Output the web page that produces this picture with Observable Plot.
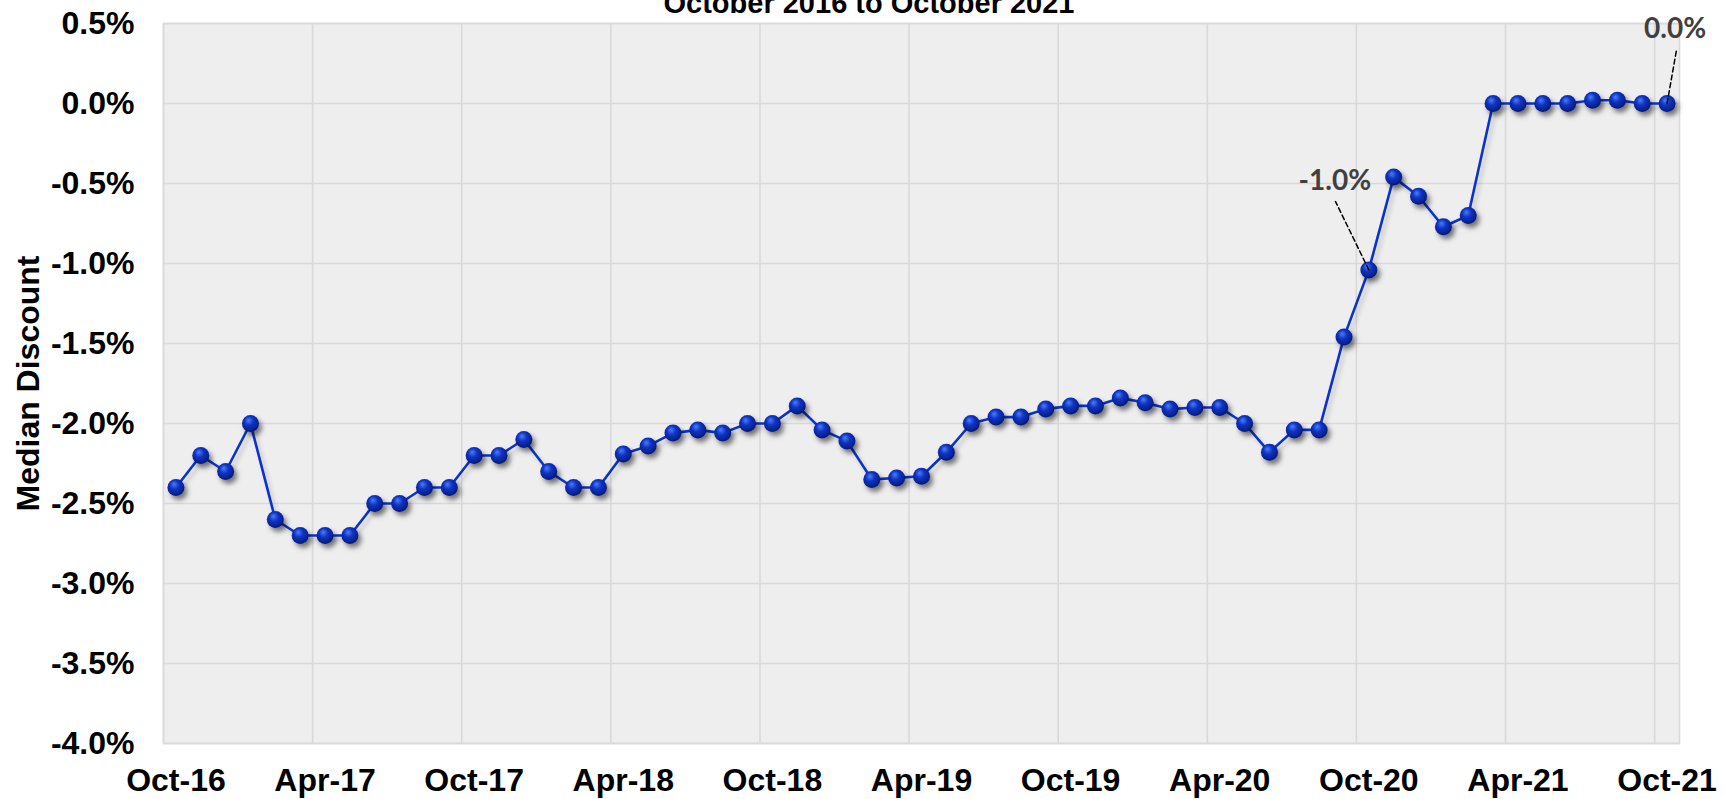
<!DOCTYPE html>
<html>
<head>
<meta charset="utf-8">
<script src="https://cdn.jsdelivr.net/npm/d3@7"></script>
<script src="https://cdn.jsdelivr.net/npm/@observablehq/plot@0.6"></script>
<style>
html, body { margin: 0; padding: 0; background: #ffffff; overflow: hidden; }
#wrap { position: relative; width: 1725px; height: 799px; overflow: hidden; }
#subtitle { position: absolute; left: 0; top: -11.5px; width: 1738px; text-align: center;
  font: bold 29px/29px "Liberation Sans", Arial, sans-serif; color: #000; white-space: nowrap; }
</style>
</head>
<body>
<div id="wrap"><div id="chart"></div><div id="subtitle">October 2016 to October 2021</div></div>
<script>
// Monthly categories, Oct-16 .. Oct-21
const months = d3.utcMonths(new Date(Date.UTC(2016, 9, 1)), new Date(Date.UTC(2021, 10, 1)))
  .map(d3.utcFormat("%b-%y"));

// Median discount (%) per month
const medianDiscount = [
  -2.40, -2.20, -2.30, -2.00, -2.60, -2.70, -2.70, -2.70, -2.50, -2.50,
  -2.40, -2.40, -2.20, -2.20, -2.10, -2.30, -2.40, -2.40, -2.19, -2.14,
  -2.06, -2.04, -2.06, -2.00, -2.00, -1.89, -2.04, -2.11, -2.35, -2.34,
  -2.33, -2.18, -2.00, -1.96, -1.96, -1.91, -1.89, -1.89, -1.84, -1.87,
  -1.91, -1.90, -1.90, -2.00, -2.18, -2.04, -2.04, -1.46, -1.04, -0.46,
  -0.58, -0.77, -0.70, 0.00, 0.00, 0.00, 0.00, 0.02, 0.02, 0.00,
  0.00
];

const xTickLabels = ["Oct-16", "Apr-17", "Oct-17", "Apr-18", "Oct-18", "Apr-19",
  "Oct-19", "Apr-20", "Oct-20", "Apr-21", "Oct-21"];
const yTicks = [0.5, 0, -0.5, -1.0, -1.5, -2.0, -2.5, -3.0, -3.5, -4.0];
const labelledMonths = ["Oct-20", "Oct-21"];
const yTitle = "Median Discount";

const rows = months.map((m, i) => ({month: m, i, value: medianDiscount[i]}));
const xPos = d => d.i + 0.5;
const fmt = v => v.toFixed(1) + "%";
const gridX = xTickLabels.map(l => months.indexOf(l));

const leader = {
  draw(context, l) { context.moveTo(0, 0); context.lineTo(0, -l); }
};

const chart = Plot.plot({
  width: 1725,
  height: 799,
  marginLeft: 163,
  marginRight: 46,
  marginTop: 23,
  marginBottom: 56,
  style: {fontFamily: '"Liberation Sans", Arial, sans-serif', fontSize: "32px", fontWeight: "bold",
          color: "#000", background: "transparent", overflow: "visible"},
  x: {type: "linear", domain: [0, months.length],
      ticks: gridX.map(i => i + 0.5), tickFormat: v => months[Math.round(v - 0.5)],
      tickSize: 0, tickPadding: 25, label: null},
  y: {domain: [-4, 0.5], ticks: yTicks, tickFormat: fmt, tickSize: 0, tickPadding: 29, label: null},
  marks: [
    Plot.frame({fill: "#eeeeee", stroke: "none"}),
    Plot.ruleY(yTicks, {stroke: "#d9d9d9", strokeWidth: 1.6}),
    Plot.ruleX(gridX, {stroke: "#d9d9d9", strokeWidth: 1.6}),
    Plot.frame({stroke: "#d9d9d9", strokeWidth: 1.6}),
    Plot.line(rows, {x: xPos, y: "value", stroke: "#0a33cc", strokeWidth: 2.6}),
    Plot.dot(rows, {x: xPos, y: "value", r: 8.5, fill: "url(#ball)", stroke: "none"}),
    Plot.vector(rows.filter(d => d.month === labelledMonths[0]),
      {x: xPos, y: "value", length: 76, rotate: -26, anchor: "start", shape: leader,
       stroke: "#000", strokeWidth: 1.5, strokeDasharray: "5,3"}),
    Plot.vector(rows.filter(d => d.month === labelledMonths[1]),
      {x: xPos, y: "value", length: 54, rotate: 10, anchor: "start", shape: leader,
       stroke: "#000", strokeWidth: 1.5, strokeDasharray: "5,3"}),
    Plot.text(rows.filter(d => d.month === labelledMonths[0]),
      {x: xPos, y: "value", text: d => fmt(d.value), dx: -34, dy: -89,
       fontFamily: "Lato, 'Open Sans', sans-serif", fontSize: 28, fontWeight: "bold", fill: "#404040"}),
    Plot.text(rows.filter(d => d.month === labelledMonths[1]),
      {x: xPos, y: "value", text: d => fmt(d.value), dx: 8, dy: -74,
       fontFamily: "Lato, 'Open Sans', sans-serif", fontSize: 28, fontWeight: "bold", fill: "#404040"}),
    Plot.text([yTitle], {frameAnchor: "left", textAnchor: "middle", rotate: -90, dx: -135, text: d => d,
       fontSize: 32, fontWeight: "bold", fill: "#000"})
  ]
});

chart.insertAdjacentHTML("afterbegin", `
<defs>
  <radialGradient id="ball" cx="0.45" cy="0.4" r="0.6" fx="0.38" fy="0.3">
    <stop offset="0" stop-color="#4f7cf7"/>
    <stop offset="0.45" stop-color="#0d33c4"/>
    <stop offset="1" stop-color="#041a78"/>
  </radialGradient>
  <filter id="shadow" x="-60%" y="-60%" width="220%" height="220%">
    <feDropShadow dx="3" dy="4" stdDeviation="2.6" flood-color="#000" flood-opacity="0.5"/>
  </filter>
  <filter id="lshadow" x="-10%" y="-10%" width="120%" height="120%">
    <feDropShadow dx="3" dy="4" stdDeviation="2" flood-color="#000" flood-opacity="0.18"/>
  </filter>
</defs>`);
const dotG = chart.querySelector('g[aria-label="dot"]');
if (dotG) dotG.setAttribute("filter", "url(#shadow)");
const lineG = chart.querySelector('g[aria-label="line"]');
if (lineG) lineG.setAttribute("filter", "url(#lshadow)");

document.getElementById("chart").appendChild(chart);
</script>
</body>
</html>
